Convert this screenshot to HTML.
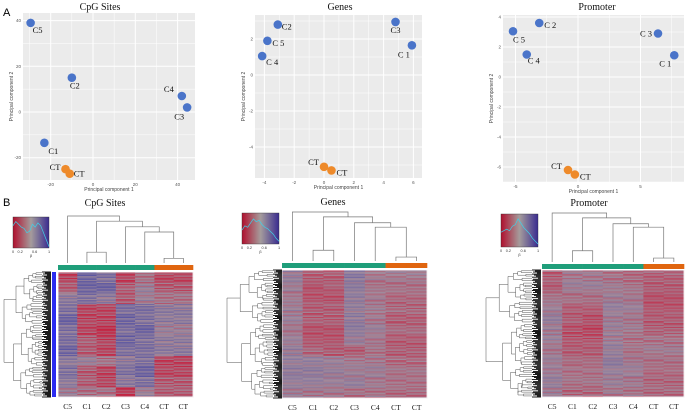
<!DOCTYPE html>
<html><head><meta charset="utf-8">
<style>
html,body{margin:0;padding:0;background:#fff;}
svg{display:block;}
.ser{font-family:"Liberation Serif",serif;fill:#111;}
.san{font-family:"Liberation Sans",sans-serif;}
</style></head>
<body>
<svg id="fig" width="685" height="411" viewBox="0 0 685 411" xmlns="http://www.w3.org/2000/svg">
<text x="3" y="16" class="san" font-size="11" fill="#000">A</text>
<text x="3" y="206" class="san" font-size="11" fill="#000">B</text>
</svg>
<script>
// ---------- PCA data ----------
const cpgPcaNames = ['C5','C2','C4','C3','C1','CT','CT'];
const cpgPc1 = [-29.5,-10,42,44.5,-23,-13,-11];
const cpgPc2 = [39,15,7,2,-13.5,-25,-27];
const cpgXTicks = [-20,0,20,40];
const cpgYTicks = [-20,0,20,40];

const genesPcaNames = ['C2','C 5','C 4','C3','C 1','CT','CT'];
const genesPc1 = [-3.1,-3.8,-4.15,4.8,5.9,0,0.5];
const genesPc2 = [2.8,1.9,1.05,2.95,1.65,-5.1,-5.3];
const genesXTicks = [-4,-2,0,2,4,6];
const genesYTicks = [-4,-2,0,2];

const promPcaNames = ['C 2','C 5','C 4','C 3','C 1','CT','CT'];
const promPc1 = [-3.1,-5.2,-4.1,6.4,7.7,-0.8,-0.25];
const promPc2 = [3.6,3.05,1.5,2.9,1.45,-6.2,-6.5];
const promXTicks = [-5,0,5];
const promYTicks = [-6,-4,-2,0,2,4];

// ---------- Heatmap data (0 = red, 1 = blue), 12 row blocks per column ----------
const heatCols = ['C5','C1','C2','C3','C4','CT','CT'];
const cpgHeat = [
 [.2,.3,.6,.7,.8,.7,.7,.8,.6,.7,.6,.5],
 [.8,.8,.7,.2,.2,.2,.3,.3,.5,.3,.3,.4],
 [.7,.8,.6,.2,.2,.1,.2,.2,.4,.2,.2,.4],
 [.2,.3,.3,.7,.8,.7,.8,.7,.6,.7,.6,.15],
 [.4,.5,.5,.7,.7,.8,.7,.7,.7,.8,.7,.5],
 [.2,.3,.4,.6,.6,.5,.6,.6,.2,.2,.3,.3],
 [.2,.3,.4,.6,.6,.5,.6,.6,.2,.2,.3,.3]];
const genesHeat = [
 [.55,.5,.45,.5,.5,.45,.5,.55,.55,.6,.55,.5],
 [.3,.25,.25,.3,.3,.25,.25,.35,.55,.6,.55,.45],
 [.3,.3,.25,.3,.3,.25,.25,.3,.5,.55,.5,.45],
 [.65,.6,.6,.55,.6,.6,.55,.3,.45,.5,.55,.4],
 [.45,.4,.45,.45,.45,.5,.45,.4,.45,.5,.45,.4],
 [.45,.4,.35,.35,.3,.35,.3,.3,.35,.4,.4,.35],
 [.45,.4,.35,.35,.3,.35,.3,.3,.35,.4,.4,.35]];
const promHeat = [
 [.3,.3,.4,.5,.55,.5,.5,.45,.5,.5,.55,.5],
 [.45,.5,.4,.3,.3,.25,.25,.3,.35,.4,.4,.35],
 [.45,.5,.4,.3,.25,.2,.25,.3,.35,.4,.4,.35],
 [.4,.45,.5,.55,.5,.5,.5,.55,.6,.55,.5,.45],
 [.35,.4,.45,.5,.45,.45,.4,.4,.45,.5,.45,.4],
 [.3,.3,.25,.25,.3,.3,.4,.45,.4,.35,.35,.35],
 [.3,.3,.25,.25,.3,.3,.4,.45,.4,.35,.35,.35]];
const rowJitter = [0,.12,-.1,.05,-.15,.08,-.04,.14,-.08,.02,-.12,.1,-.02,.06,-.14,.04,.09,-.06,.01];

// ---------- Column dendrograms ----------
const cpgTree = [0,[[1,2,.23],[3,[4,[5,6,.1],.66],.77],.89],1];
const genesTree = [0,[[1,2,.22],[3,[4,[5,6,.08],.69],.78],.9],1];
const promTree = [0,[[1,2,.23],[3,[4,[5,6,.08],.71],.78],.9],1];

// ---------- Density key curves ----------
const cpgDensity = [.8,.95,.85,.75,.7,.55,.6,.85,.75,.9,.8,.55,.3,.05];
const genesDensity = [.5,.65,.6,.75,.9,.8,.85,.7,.6,.55,.45,.35,.2,.1];
const promDensity = [.5,.55,.6,.55,.7,.75,.95,.8,.65,.55,.45,.3,.2,.1];

const NS='http://www.w3.org/2000/svg';
const svg=document.getElementById('fig');
function mk(tag,attrs,parent){const e=document.createElementNS(NS,tag);for(const k in attrs)e.setAttribute(k,attrs[k]);(parent||svg).appendChild(e);return e;}

function pca(cfg){
  const g=mk('g',{});
  
  
  const sx=v=>cfg.x0+v*cfg.kx, sy=v=>cfg.y0-v*cfg.ky;
  const bg=mk('rect',{x:cfg.L,y:cfg.T,width:cfg.R-cfg.L,height:cfg.B-cfg.T,fill:'#ebebeb'},g);
  
  
  const dx=cfg.xt[1]-cfg.xt[0], dy=cfg.yt[1]-cfg.yt[0];
  for(let v=cfg.xt[0]-dx;v<=cfg.xt[cfg.xt.length-1]+dx;v+=dx/2){
    const px=sx(v); if(px<cfg.L||px>cfg.R) continue;
    const major=cfg.xt.includes(v);
    const l=mk('line',{x1:px,x2:px,y1:cfg.T,y2:cfg.B,stroke:'#fff','stroke-width':major?1:0.5},g);
    
    
  }
  for(let v=cfg.yt[0]-dy;v<=cfg.yt[cfg.yt.length-1]+dy;v+=dy/2){
    const py=sy(v); if(py<cfg.T||py>cfg.B) continue;
    const major=cfg.yt.includes(v);
    const l=mk('line',{x1:cfg.L,x2:cfg.R,y1:py,y2:py,stroke:'#fff','stroke-width':major?1:0.5},g);
    
    
  }
  cfg.xt.forEach(v=>{
    const t=mk('text',{x:sx(v),y:cfg.B+6,'font-size':4.5,fill:'#555','text-anchor':'middle',class:'san'},g);
    t.textContent=v;
    
    
  });
  cfg.yt.forEach(v=>{
    const t=mk('text',{x:cfg.L-2,y:sy(v)+1.5,'font-size':4.5,fill:'#555','text-anchor':'end',class:'san'},g);
    t.textContent=v;
    
    
  });
  const xt=mk('text',{x:(cfg.L+cfg.R)/2,y:cfg.B+11,'font-size':5,fill:'#444','text-anchor':'middle',class:'san'},g);
  xt.textContent='Principal component 1';
  
  
  const yx=cfg.L-10, yy=(cfg.T+cfg.B)/2;
  const yt=mk('text',{x:yx,y:yy,'font-size':5,fill:'#444','text-anchor':'middle',class:'san',transform:`rotate(-90 ${yx} ${yy})`},g);
  yt.textContent='Principal component 2';
  
  
  const ti=mk('text',{x:cfg.tx,y:10,'font-size':10,'text-anchor':'middle',class:'ser'},g);
  ti.textContent=cfg.title;
  
  
  cfg.pc1.forEach((v,i)=>{
    const ct=cfg.names[i]==='CT';
    const px=sx(v), py=sy(cfg.pc2[i]);
    const c=mk('circle',{cx:px,cy:py,r:4.3,fill:ct?'#ee8a2a':'#4a74c9'},g);
    
    
    const o=cfg.lab[i];
    const t=mk('text',{x:px+o[0],y:py+o[1],'font-size':8.5,'text-anchor':o[2],class:'ser'},g);
    t.textContent=cfg.names[i];
    
    
  });
}

pca({name:'cpg',title:'CpG Sites',tx:100,L:23,R:195,T:13,B:180,x0:93,kx:42.3/20,y0:112,ky:45.7/20,
  xt:cpgXTicks,yt:cpgYTicks,pc1:cpgPc1,pc2:cpgPc2,names:cpgPcaNames,
  lab:[[2,10,'start'],[-2,11,'start'],[-8,-4,'end'],[-3,12,'end'],[4,11,'start'],[-5,1,'end'],[4,3,'start']]});
pca({name:'genes',title:'Genes',tx:340,L:255,R:422,T:15,B:178,x0:324,kx:14.9,y0:75,ky:18,
  xt:genesXTicks,yt:genesYTicks,pc1:genesPc1,pc2:genesPc2,names:genesPcaNames,
  lab:[[4,5,'start'],[5,5,'start'],[4,9,'start'],[0,11,'middle'],[-2,12,'end'],[-5,-2,'end'],[5,5,'start']]});
pca({name:'promoter',title:'Promoter',tx:597,L:503,R:684,T:15,B:182,x0:578,kx:12.5,y0:77,ky:15,
  xt:promXTicks,yt:promYTicks,pc1:promPc1,pc2:promPc2,names:promPcaNames,
  lab:[[5,5,'start'],[0,11,'start'],[1,9,'start'],[-6,3,'end'],[-3,11,'end'],[-6,-1,'end'],[5,5,'start']]});

// ---------- heatmaps ----------
function lerp(a,b,t){return a.map((x,i)=>Math.round(x+(b[i]-x)*t));}
function col(v){v=Math.max(0,Math.min(1,v));const R=[196,36,66],G=[160,138,155],B=[86,82,162];
  const c=v<.5?lerp(R,G,v/.5):lerp(G,B,(v-.5)/.5);return `rgb(${c})`;}

function heat(cfg){
  const g=mk('g',{});
  
  
  const ti=mk('text',{x:cfg.tx,y:cfg.ty,'font-size':10,'text-anchor':'middle',class:'ser'},g);
  ti.textContent=cfg.title;
  
  
  const n=heatCols.length, cw=(cfg.R-cfg.L)/n, rows=125, rh=(cfg.B-cfg.T)/rows;
  const cx=i=>cfg.L+cw*(i+.5);
  cfg.data.forEach((blocks,c)=>{
    for(let r=0;r<rows;r++){
      const b=blocks[Math.floor(r*blocks.length/rows)];
      const v=b+rowJitter[(r*7+c*5)%rowJitter.length]*1.1;
      const cell=mk('rect',{x:cfg.L+c*cw,y:cfg.T+r*rh,width:cw+0.3,height:rh+0.3,fill:col(v)},g);
      
      
    }
  });
  const fr=mk('rect',{x:cfg.L,y:cfg.T,width:cfg.R-cfg.L,height:cfg.B-cfg.T,fill:'none',stroke:'#fff','stroke-width':0.8},g);
  
  
  heatCols.forEach((name,i)=>{
    const b=mk('rect',{x:cfg.L+i*cw,y:cfg.cbT,width:cw+0.3,height:5,fill:name==='CT'?'#e0650f':'#1f9e7a'},g);
    
    
    const t=mk('text',{x:cx(i),y:cfg.lblY,'font-size':7.5,'text-anchor':'middle',class:'ser'},g);
    t.textContent=name;
    
    
  });
  const bot=cfg.cbT-2, span=bot-cfg.dT;
  function draw(node){
    if(typeof node==='number') return {x:cx(node),y:bot};
    const a=draw(node[0]), b=draw(node[1]), y=bot-node[2]*span;
    const p=mk('path',{d:`M${a.x},${a.y}V${y}H${b.x}V${b.y}`,fill:'none',stroke:'#777','stroke-width':0.7},g);
    
    
    return {x:(a.x+b.x)/2,y:y};
  }
  draw(cfg.tree);
  // row dendrogram
  const rL=cfg.rdL, rR=cfg.rdR, leafX=rR-9;
  function rtree(t0,t1,depth){
    const mid=(t0+t1)/2;
    if(depth>=7 || t1-t0<3) return {x:leafX,y:mid};
    const f=[.42,.58,.38,.6,.5,.45,.55][depth%7];
    const s=t0+(t1-t0)*f;
    const a=rtree(t0,s,depth+1), b=rtree(s,t1,depth+1);
    const x=rL+(leafX-rL)*[0,.3,.5,.62,.72,.8,.88][depth]+((t0*7)%5)-2;
    const p=mk('path',{d:`M${a.x},${a.y}H${x}V${b.y}H${b.x}`,fill:'none',stroke:'#555','stroke-width':0.5},g);
    
    
    return {x:x,y:(a.y+b.y)/2};
  }
  rtree(cfg.T,cfg.B,0);
  const lens=[9,6,8,4,9,7,5,9,3,8];
  for(let r=0;r<125;r++){
    const y=cfg.T+(cfg.B-cfg.T)*r/124;
    const L=lens[r%lens.length];
    const ln=mk('line',{x1:rR-L,x2:rR,y1:y,y2:y,stroke:'#000','stroke-width':0.9},g);
    
    
  }
  if(cfg.side){
    const sb=mk('rect',{x:cfg.side,y:cfg.T,width:4,height:cfg.B-cfg.T,fill:'#2b2bf0'},g);
    
    
  }
  const k=cfg.key;
  const gid='grad-'+cfg.name;
  const defs=mk('defs',{},g);
  const lg=mk('linearGradient',{id:gid,x1:0,x2:1,y1:0,y2:0},defs);
  mk('stop',{offset:0,'stop-color':'#b0102e'},lg);
  mk('stop',{offset:.5,'stop-color':'#a59c9c'},lg);
  mk('stop',{offset:1,'stop-color':'#3a2c90'},lg);
  const kr=mk('rect',{x:k[0],y:k[1],width:k[2],height:k[3],fill:`url(#${gid})`,stroke:'#333','stroke-width':0.4},g);
  
  
  const pts=cfg.dens.map((d,i)=>`${k[0]+k[2]*i/(cfg.dens.length-1)},${k[1]+k[3]*(1-d*0.9)}`).join(' ');
  const pl=mk('polyline',{points:pts,fill:'none',stroke:'#3ed0e8','stroke-width':0.7},g);
  
  
  ['0','0.2','0.6','1'].forEach((s,i)=>{
    const t=mk('text',{x:k[0]+k[2]*[0,.2,.6,1][i],y:k[1]+k[3]+5,'font-size':3.8,'text-anchor':'middle',fill:'#333',class:'san'},g);
    t.textContent=s;
    
    
  });
  const bt=mk('text',{x:k[0]+k[2]/2,y:k[1]+k[3]+9,'font-size':3.8,'text-anchor':'middle',fill:'#333',class:'san'},g);
  bt.textContent='β';
  
  
}

heat({name:'cpg',title:'CpG Sites',tx:105,ty:206,L:58,R:193,T:272,B:397,cbT:265,dT:216,lblY:409,
  data:cpgHeat,tree:cpgTree,rdL:2,rdR:51,side:52,key:[13,217,36,31],dens:cpgDensity});
heat({name:'genes',title:'Genes',tx:333,ty:205,L:282,R:427,T:270,B:398,cbT:263,dT:212,lblY:410,
  data:genesHeat,tree:genesTree,rdL:229,rdR:282,key:[242,213,37,31],dens:genesDensity});
heat({name:'promoter',title:'Promoter',tx:589,ty:206,L:542,R:684,T:270,B:397,cbT:264,dT:213,lblY:409,
  data:promHeat,tree:promTree,rdL:488,rdR:541,key:[501,214,37,33],dens:promDensity});
</script>
</body></html>
